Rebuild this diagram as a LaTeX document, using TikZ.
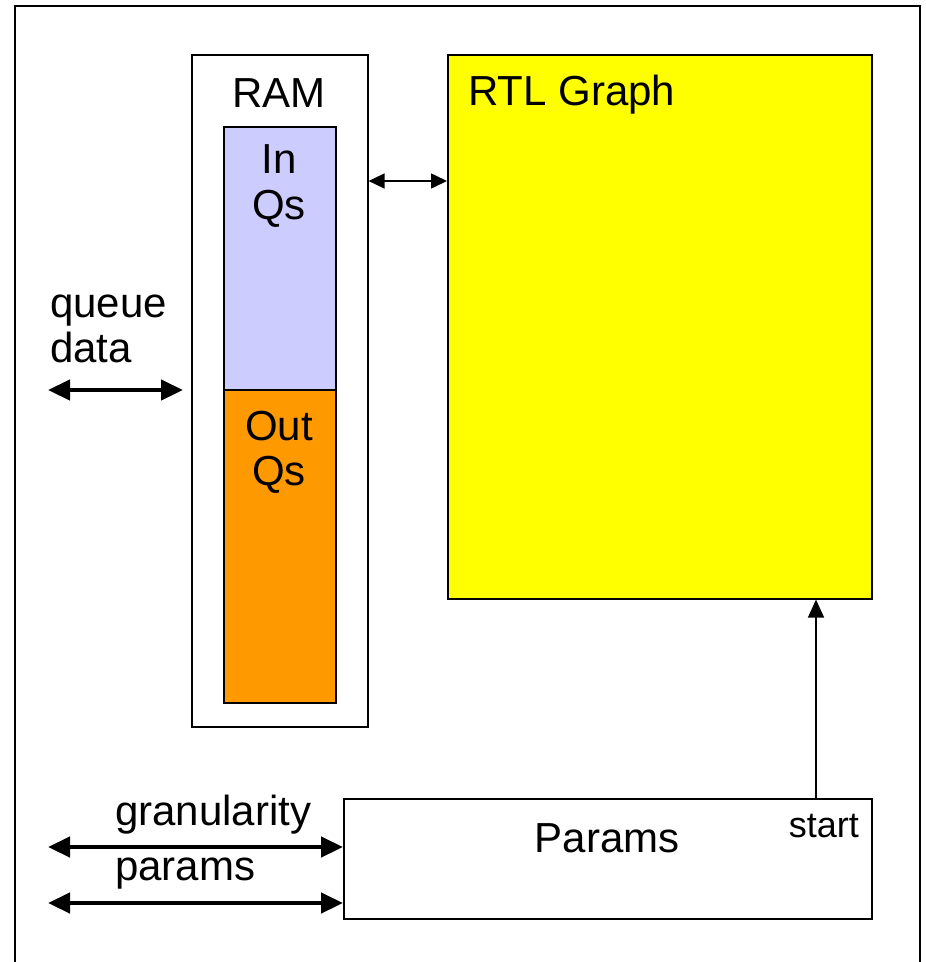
\documentclass[tikz,border=0pt]{standalone}
\usepackage{fontspec}
\setmainfont{Liberation Sans}
\usetikzlibrary{arrows.meta}
\definecolor{inqc}{HTML}{CCCCFF}
\definecolor{outqc}{HTML}{FF9900}
\definecolor{rtlc}{HTML}{FFFF00}
\begin{document}
\begin{tikzpicture}[x=1pt,y=-1pt,
  box/.style={draw=black,line width=1.6pt,inner sep=0pt,anchor=north west},
  lbl/.style={inner sep=0pt,anchor=base,font=\fontsize{42}{46}\selectfont},
  small/.style={inner sep=0pt,anchor=base,font=\fontsize{36}{40}\selectfont},
  thinarr/.style={line width=1.6pt,{Triangle[length=16pt,width=15pt]}-{Triangle[length=16pt,width=15pt]}},
  thickarr/.style={line width=4.5pt,{Triangle[length=22pt,width=20pt]}-{Triangle[length=22pt,width=20pt]}},
  uparr/.style={line width=1.6pt,-{Triangle[length=18pt,width=16pt]}}]
\useasboundingbox (0,0) rectangle (926,962);
\fill[white] (0,0) rectangle (926,962);
\draw[line width=1.6pt] (15,1000) -- (15,6) -- (920,6) -- (920,1000);
% RAM
\node[box,minimum width=176pt,minimum height=672pt,fill=white] (ram) at (191,54) {};
\node[box,minimum width=112pt,minimum height=263pt,fill=inqc] (inq) at (223,126) {};
\node[box,minimum width=112pt,minimum height=313pt,fill=outqc] (outq) at (223,389) {};
\node[lbl] (ramlbl) at (279,107) {RAM};
\node[lbl] (inl1) at (279,173) {In};
\node[lbl] (inl2) at (279,219) {Qs};
\node[lbl] (outl1) at (279,440) {Out};
\node[lbl] (outl2) at (279,485) {Qs};
% RTL
\node[box,minimum width=424pt,minimum height=544pt,fill=rtlc] (rtl) at (447,54) {};
\node[lbl,anchor=base west] (rtllbl) at (468,105) {RTL Graph};
% Params
\node[box,minimum width=528pt,minimum height=120pt,fill=white] (params) at (343,798) {};
\node[lbl] (paramslbl) at (607,852) {Params};
\node[small,anchor=base east] (startlbl) at (859,837) {start};
% left labels
\node[lbl,anchor=base west] (q1) at (50,317) {queue};
\node[lbl,anchor=base west] (q2) at (50,362) {data};
\node[lbl,anchor=base west] (g1) at (115,825) {granularity};
\node[lbl,anchor=base west] (g2) at (115,880) {params};
% connectors
\coordinate (qa) at (48,390);
\coordinate (qb) at (183,390);
\draw[thickarr] (qa) -- (qb);
\draw[thinarr] (ram.east |- 0,181) -- (rtl.west |- 0,181);
\coordinate (ga) at (48,847);
\coordinate (pa) at (48,903);
\draw[thickarr] (ga) -- (params.west |- ga);
\draw[thickarr] (pa) -- (params.west |- pa);
\draw[uparr] (params.north -| 816,0) -- (rtl.south -| 816,0);
\end{tikzpicture}
\end{document}
